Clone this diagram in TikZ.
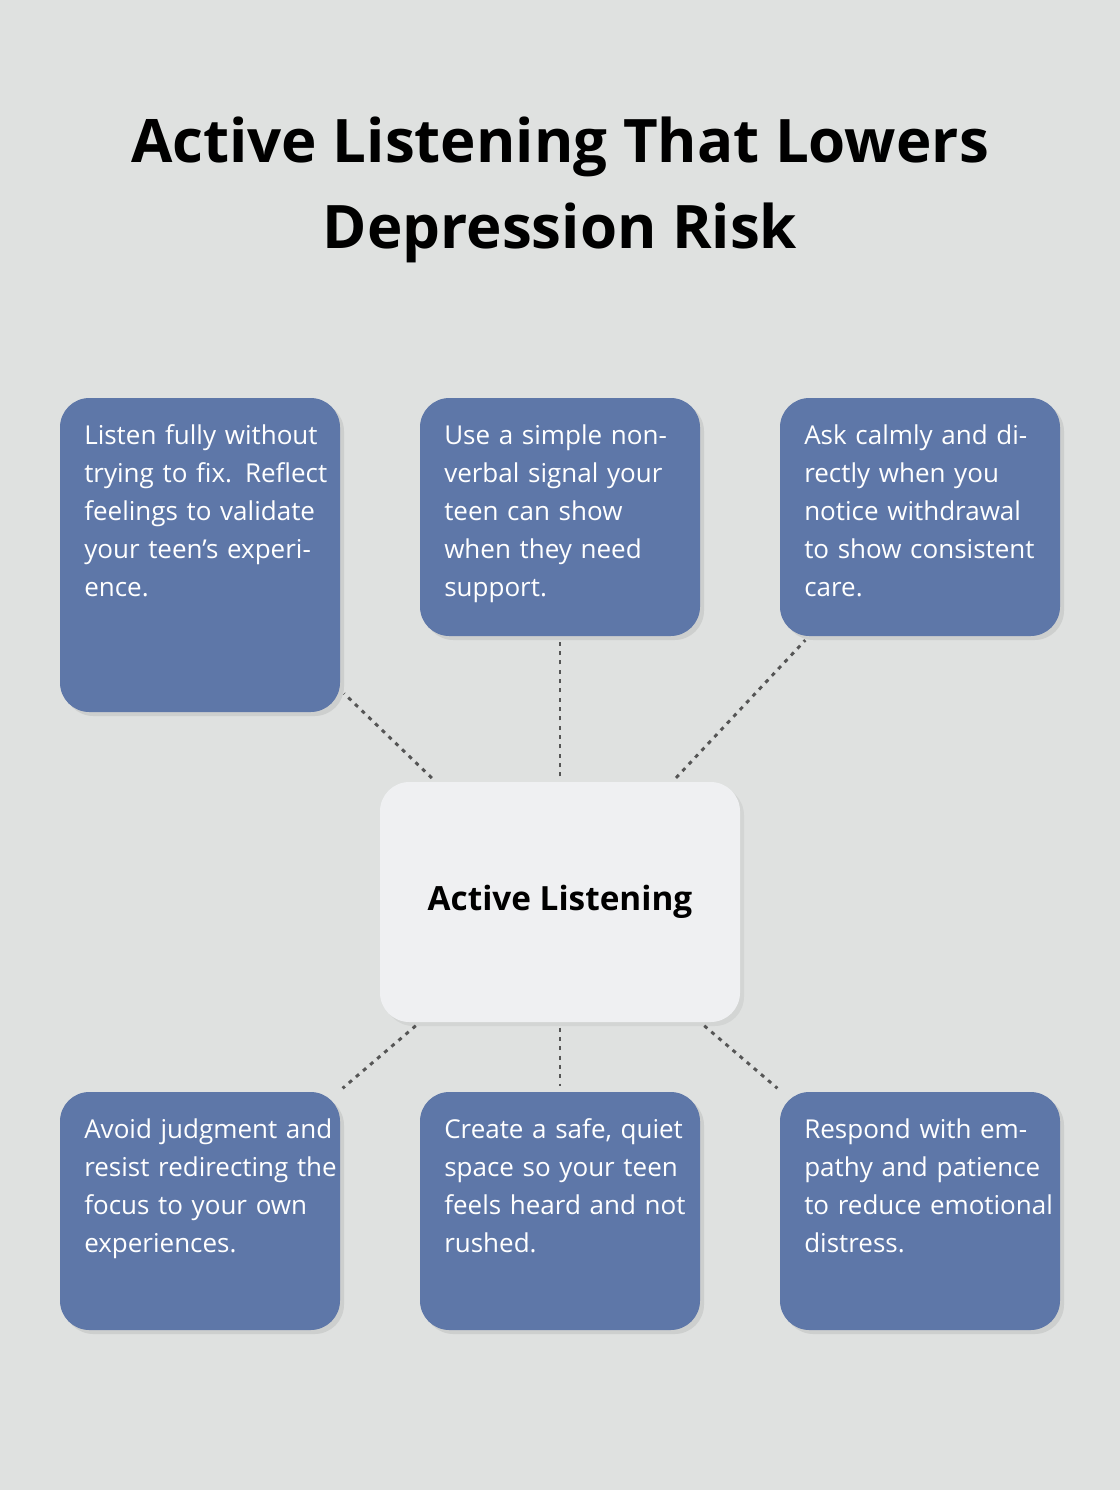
\documentclass[tikz,border=0pt]{standalone}
\usepackage{fontspec}
\setmainfont{Open Sans}
\usetikzlibrary{shadows}
\definecolor{bgcol}{HTML}{DFE1E0}
\definecolor{boxcol}{HTML}{5E77A8}
\definecolor{hubcol}{HTML}{EFF0F2}
\definecolor{linecol}{HTML}{555555}
\tikzset{
  tipbox/.style={draw=none,fill=boxcol,rounded corners=22pt,minimum width=210pt,minimum height=178.5pt,inner sep=0pt,
    drop shadow={opacity=0.18,shadow xshift=3pt,shadow yshift=-3pt}},
  tiptext/.style={anchor=north west,inner sep=0pt,text=white,text width=190pt,align=left,font=\fontsize{19.5}{28.5}\selectfont},
  link/.style={draw=linecol,line width=2.2pt,dash pattern=on 3pt off 4pt,shorten <=4pt,shorten >=4pt}
}
\begin{document}
\begin{tikzpicture}[x=0.75pt,y=0.75pt,yscale=-1,xscale=1]
\fill[bgcol] (0,0) rectangle (1120,1490);
\useasboundingbox (0,0) rectangle (1120,1490);

% Title
\node (title) at (560,190) [align=center,font=\fontsize{45}{64}\selectfont\bfseries] {Active Listening That Lowers\\Depression Risk};

% Hub
\node (hub) at (560,902) [fill=hubcol,rounded corners=22pt,minimum width=270pt,minimum height=180pt,
  drop shadow={opacity=0.12,shadow xshift=3pt,shadow yshift=-3pt},font=\fontsize{25}{30}\selectfont\bfseries] {Active Listening};

% Tip boxes
\node (tl) at (200,555) [tipbox,minimum height=235.5pt] {};
\node (tm) at (560,517) [tipbox] {};
\node (tr) at (920,517) [tipbox] {};
\node (bl) at (200,1211) [tipbox] {};
\node (bm) at (560,1211) [tipbox] {};
\node (br) at (920,1211) [tipbox] {};

% Tip texts
\node (tltext) at (84,424) [tiptext] {Listen fully without trying to fix. Reflect feelings to validate your teen’s experience.};
\node (tmtext) at (444,424) [tiptext] {Use a simple nonverbal signal your teen can show when they need support.};
\node (trtext) at (804,424) [tiptext] {Ask calmly and directly when you notice withdrawal to show consistent care.};
\node (bltext) at (84,1118) [tiptext] {Avoid judgment and resist redirecting the focus to your own experiences.};
\node (bmtext) at (444,1118) [tiptext] {Create a safe, quiet space so your teen feels heard and not rushed.};
\node (brtext) at (804,1118) [tiptext] {Respond with empathy and patience to reduce emotional distress.};

% Links
\foreach \t in {tl,tm,tr,bl,bm,br}
  \draw[link] (hub) -- (\t);
\end{tikzpicture}
\end{document}
